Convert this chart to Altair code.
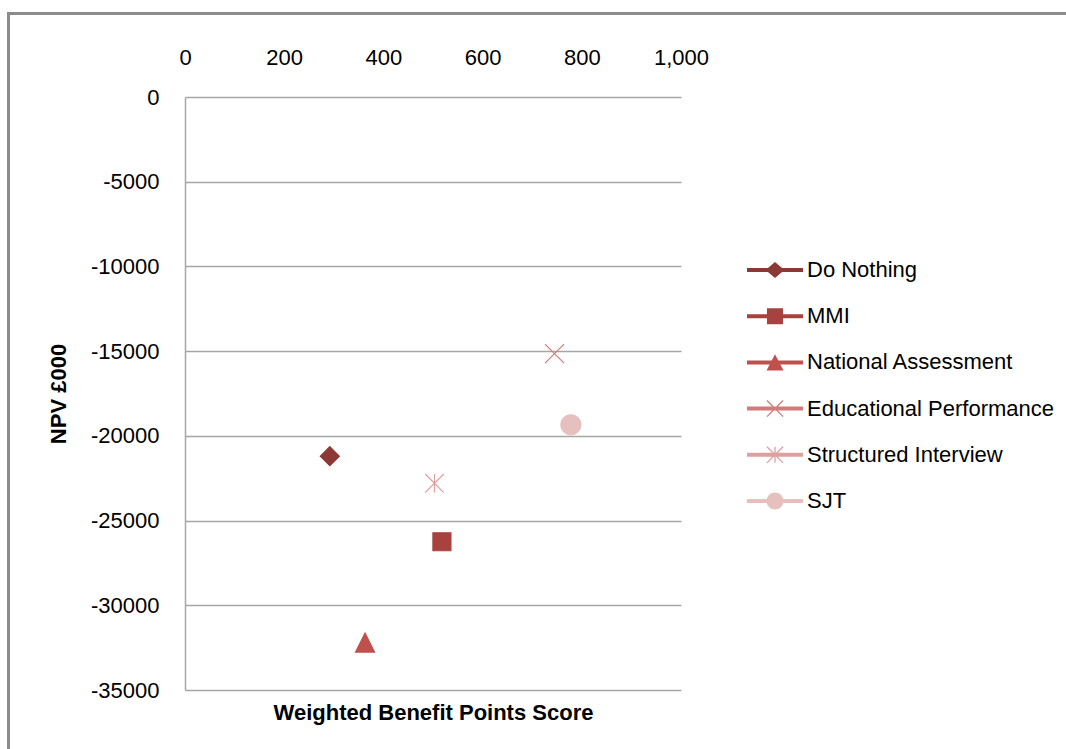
import math
import altair as alt
import pandas as pd

# ---- data ----
series = ["Do Nothing", "MMI", "National Assessment",
          "Educational Performance", "Structured Interview", "SJT"]
benefit_score = [292, 518, 363, 745, 503, 778]
npv_000 = [-21200, -26250, -32200, -15150, -22800, -19350]
series_colors = ["#8C3836", "#A7423F", "#C0504D", "#D07C7A", "#DDA09F", "#E6C0BF"]
x_ticks = [0, 200, 400, 600, 800, 1000]
y_ticks = [0, -5000, -10000, -15000, -20000, -25000, -30000, -35000]

df = pd.DataFrame({"series": series, "benefit": benefit_score, "npv": npv_000})

FONT = "Liberation Sans"


# ---- symbol path helpers (unit coordinates) ----
def poly(pts):
    area = sum(pts[i][0] * pts[(i + 1) % len(pts)][1] - pts[(i + 1) % len(pts)][0] * pts[i][1]
               for i in range(len(pts)))
    if area > 0:
        pts = pts[::-1]
    return "M" + "L".join(f"{x:.3f},{y:.3f}" for x, y in pts) + "Z"


def seg(x1, y1, x2, y2, w):
    dx, dy = x2 - x1, y2 - y1
    ln = math.hypot(dx, dy)
    nx, ny = -dy / ln * w, dx / ln * w
    return poly([(x1 + nx, y1 + ny), (x2 + nx, y2 + ny), (x2 - nx, y2 - ny), (x1 - nx, y1 - ny)])


def circle_poly(r, n=28):
    return poly([(r * math.cos(2 * math.pi * i / n), r * math.sin(2 * math.pi * i / n)) for i in range(n)])


# plot markers (size 400 -> 10 px per unit)
plot_shapes = [
    "M0,-0.95L0.95,0L0,0.95L-0.95,0Z",
    "M-0.9,-0.9L0.9,-0.9L0.9,0.9L-0.9,0.9Z",
    "M0,-0.95L0.95,0.95L-0.95,0.95Z",
    "M-0.95,-0.95L0.95,0.95M-0.95,0.95L0.95,-0.95",
    "M-0.93,-0.93L0.93,0.93M-0.93,0.93L0.93,-0.93M0,-0.93L0,0.93",
    "M1.0,0A1.0,1.0,0,1,1,-1.0,0A1.0,1.0,0,1,1,1.0,0Z",
]

# legend symbols: line + marker (size 2116 -> 23 px per unit)
L = 1.217   # half line length
T = 0.087   # half line thickness
line = seg(-L, 0, L, 0, T)
m = 0.35
tw = 0.028
legend_shapes = [
    line + poly([(0, -m), (0.41, 0), (0, m), (-0.41, 0)]),
    line + poly([(-m, -m), (m, -m), (m, m), (-m, m)]),
    line + poly([(0, -m), (0.37, m), (-0.37, m)]),
    line + seg(-m, -m, m, m, tw) + seg(-m, m, m, -m, tw),
    line + seg(-m, -m, m, m, tw) + seg(-m, m, m, -m, tw) + seg(0, -m, 0, m, tw),
    line + circle_poly(0.37),
]

x_enc = alt.X(
    "benefit:Q",
    scale=alt.Scale(domain=[0, 1000], nice=False),
    axis=alt.Axis(orient="top", values=x_ticks, format=",d", grid=False, domain=False,
                  ticks=False, tickSize=0, labelPadding=28, labelFontSize=22,
                  labelFlush=False, labelColor="black", title=None),
)
y_enc = alt.Y(
    "npv:Q",
    scale=alt.Scale(domain=[-35000, 0], nice=False),
    axis=alt.Axis(values=y_ticks, labelExpr="'' + datum.value", grid=True,
                  gridColor="#a6a6a6", gridWidth=1.5, domainColor="#a6a6a6",
                  domainWidth=1.5, ticks=False, tickSize=0, labelPadding=26,
                  labelFontSize=22, labelFlush=False, labelColor="black",
                  title="NPV £000", titleFontSize=22, titleFontWeight="bold",
                  titleColor="black", titleX=-127, titleY=296.5, titleAngle=270,
                  titleAlign="center", titleBaseline="middle"),
)

points = alt.Chart(df).mark_point(filled=True, opacity=1, size=400, strokeWidth=1.2).encode(
    x=x_enc,
    y=y_enc,
    color=alt.Color("series:N", scale=alt.Scale(domain=series, range=series_colors), legend=None),
    stroke=alt.Stroke("series:N", scale=alt.Scale(domain=series, range=series_colors), legend=None),
    shape=alt.Shape("series:N", scale=alt.Scale(domain=series, range=plot_shapes), legend=None),
)

legend_props = dict(title=None, orient="none", legendX=567, legendY=150,
                    symbolSize=2116, symbolStrokeWidth=0, symbolOpacity=1,
                    labelOffset=9, rowPadding=12.2, padding=0, labelLimit=0,
                    labelFontSize=22, labelColor="black", labelBaseline="middle")

legend_layer = alt.Chart(df).transform_filter("false").mark_point(filled=True, opacity=1).encode(
    x=alt.X("benefit:Q",
            axis=alt.Axis(orient="bottom", labels=False, ticks=False, domain=False, grid=False,
                          title="Weighted Benefit Points Score", titleFontSize=22,
                          titleFontWeight="bold", titleColor="black",
                          titleY=22, titleBaseline="middle", titleAlign="center")),
    y=alt.Y("npv:Q"),
    color=alt.Color("series:N", scale=alt.Scale(domain=series, range=series_colors),
                    legend=alt.Legend(**legend_props)),
    shape=alt.Shape("series:N", scale=alt.Scale(domain=series, range=legend_shapes),
                    legend=alt.Legend(**legend_props)),
)

frame = alt.Chart(alt.Data(values=[{"k": 1}])).mark_rect(
    filled=False, stroke="#8c8c8c", strokeWidth=3
).encode(
    x=alt.value(-176.5), x2=alt.value(1000), y=alt.value(-83.5), y2=alt.value(800)
)

chart = alt.layer(frame, points, legend_layer).resolve_scale(
    color="independent", shape="independent", stroke="independent"
).resolve_axis(
    x="independent"
).properties(
    width=496,
    height=593,
    padding={"left": 185, "top": 97, "right": 385, "bottom": 59},
    autosize=alt.AutoSizeParams(type="none"),
).configure(font=FONT).configure_view(stroke=None)

chart.save("out.html", embed_options={"renderer": "svg", "actions": False})
